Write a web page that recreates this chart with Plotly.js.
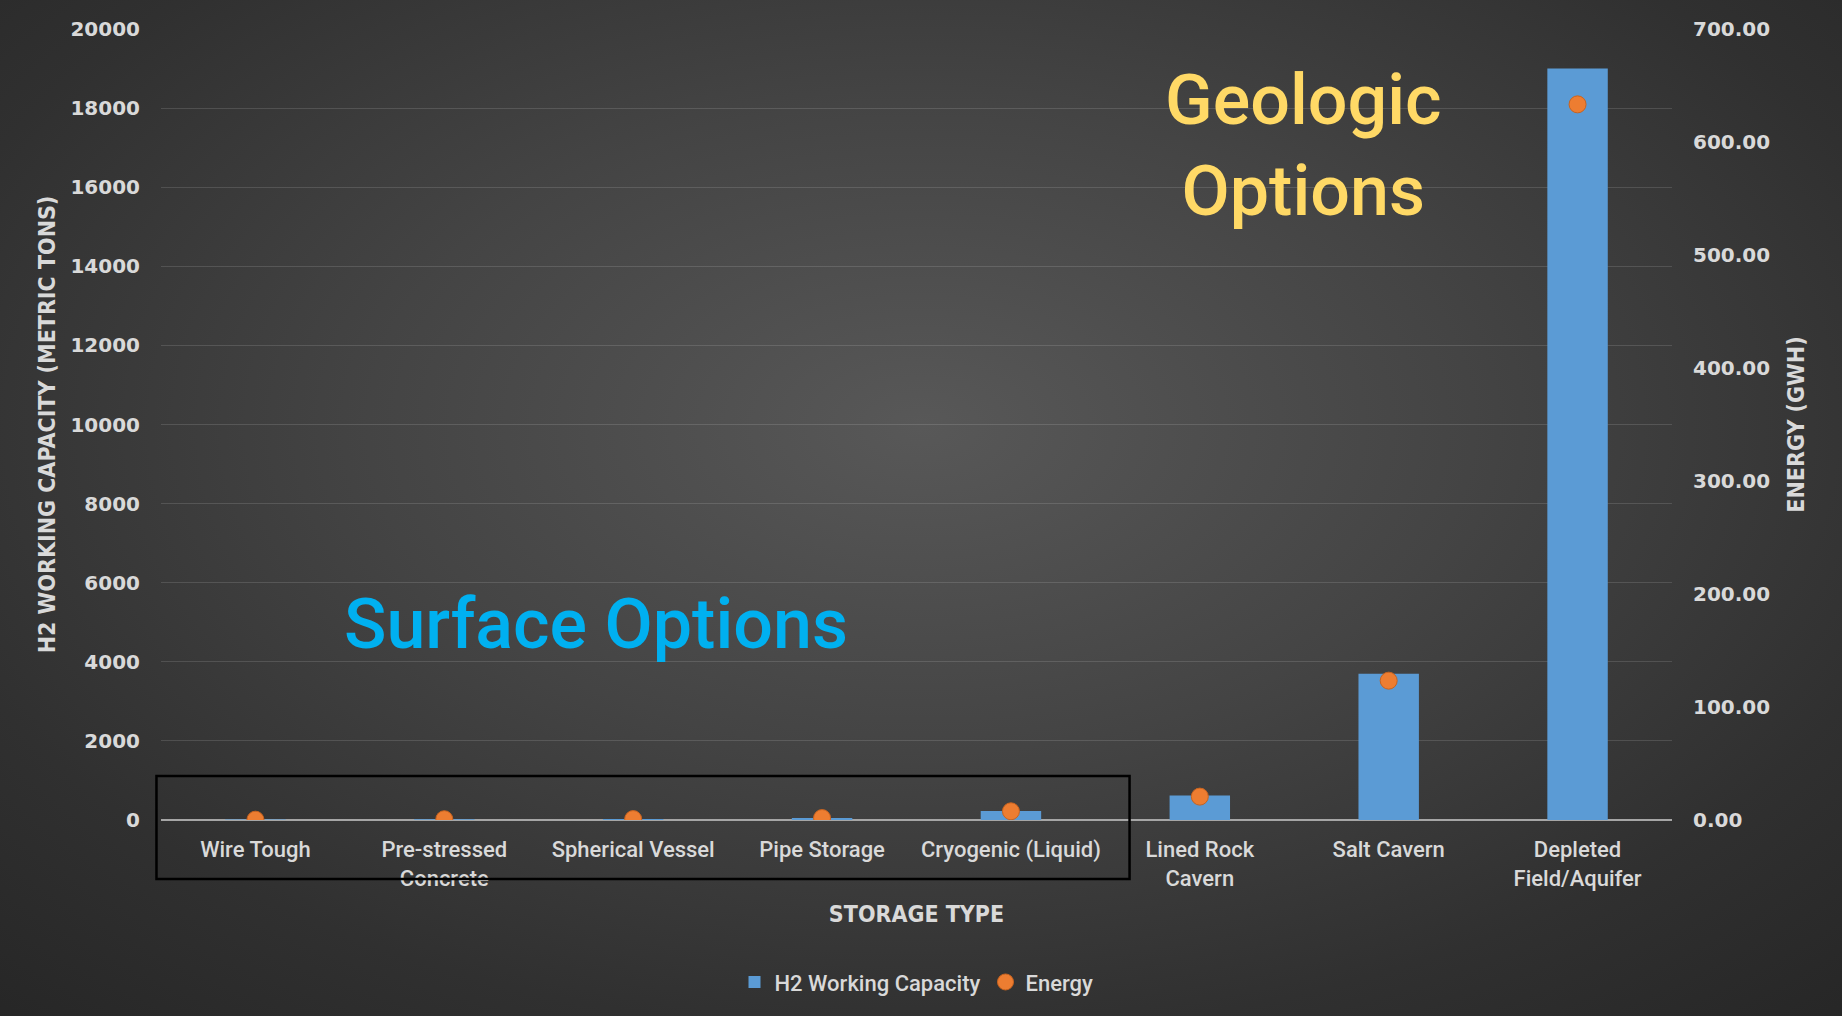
<!DOCTYPE html>
<html>
<head>
<meta charset="utf-8">
<script src="https://cdn.plot.ly/plotly-3.0.1.min.js"></script>
<style>
  html, body { margin: 0; padding: 0; width: 1842px; height: 1016px; overflow: hidden; }
  body { background: radial-gradient(ellipse 75% 80% at 50% 42%, #585858 0%, #444444 40%, #303030 75%, #262626 100%); }
  #chart { width: 1842px; height: 1016px; }
</style>
</head>
<body>
<div id="chart"></div>
<script>
const categories = ["Wire Tough", "Pre-stressed<br>Concrete", "Spherical Vessel", "Pipe Storage",
                    "Cryogenic (Liquid)", "Lined Rock<br>Cavern", "Salt Cavern", "Depleted<br>Field/Aquifer"];
const h2Capacity = [10, 20, 25, 50, 230, 620, 3700, 19000];   // metric tons
const energyGWh  = [0.3, 0.7, 0.8, 1.7, 7.7, 20.7, 123.3, 633.3];

const leftTicks  = [0, 2000, 4000, 6000, 8000, 10000, 12000, 14000, 16000, 18000, 20000];
const rightTicks = [0, 100, 200, 300, 400, 500, 600, 700];

const tickFont = {family: "DejaVu Sans", size: 20, color: "#d9d9d9", weight: "bold"};
const titleFont = {family: "DejaVu Sans Condensed, Liberation Sans Narrow, Liberation Sans", size: 23, color: "#d9d9d9", weight: "bold"};
const labelFont = {family: "Roboto", size: 22, color: "#d9d9d9", weight: 500};

const traces = [
  {
    type: "bar", name: "H2 Working Capacity", x: categories, y: h2Capacity,
    marker: {color: "#5b9bd5", line: {width: 0}}, yaxis: "y", hoverinfo: "x+y"
  },
  {
    type: "scatter", mode: "markers", name: "Energy", x: categories, y: energyGWh,
    marker: {color: "#ed7d31", size: 17, line: {color: "#c8631f", width: 1}}, yaxis: "y2"
  }
];

const layout = {
  width: 1842, height: 1016,
  paper_bgcolor: "rgba(0,0,0,0)", plot_bgcolor: "rgba(0,0,0,0)",
  margin: {l: 161, r: 170, t: 29, b: 196},
  bargap: 0.68,
  showlegend: true,
  legend: {orientation: "h", x: 0.5, xanchor: "center", y: -0.205, yanchor: "middle",
           font: {family: "Roboto", size: 22, color: "#d9d9d9", weight: 500}, bgcolor: "rgba(0,0,0,0)"},
  xaxis: {
    type: "category", showgrid: false, showline: false, zeroline: false, ticks: "",
    tickfont: labelFont,
    ticklabelstandoff: 14,
    title: {text: "STORAGE TYPE", font: titleFont, standoff: 16}
  },
  yaxis: {
    range: [0, 20000], tickvals: leftTicks, ticktext: leftTicks.map(String),
    showgrid: true, gridcolor: "rgba(255,255,255,0.13)", gridwidth: 1,
    zeroline: true, zerolinecolor: "#a6a6a6", zerolinewidth: 2,
    showline: false, ticks: "", ticklabelstandoff: 20, tickfont: tickFont,
    title: {text: "H2 WORKING CAPACITY (METRIC TONS)", font: titleFont, standoff: 8}
  },
  yaxis2: {
    overlaying: "y", side: "right", range: [0, 700], tickvals: rightTicks,
    ticktext: rightTicks.map(v => v.toFixed(2)),
    showgrid: false, zeroline: false, showline: false, ticks: "", ticklabelstandoff: 20,
    tickfont: tickFont,
    title: {text: "ENERGY (GWH)", font: titleFont, standoff: 18}
  },
  annotations: [
    {text: "Geologic<br>Options", xref: "paper", yref: "paper", x: 0.756, y: 0.965, xanchor: "center", yanchor: "top",
     showarrow: false, font: {family: "Roboto", size: 70, color: "#ffd966", weight: 500}},
    {text: "Surface Options", xref: "paper", yref: "paper", x: 0.288, y: 0.248, xanchor: "center", yanchor: "middle",
     showarrow: false, font: {family: "Roboto", size: 70, color: "#00b0f0", weight: 500}}
  ],
  shapes: [
    {type: "rect", xref: "paper", yref: "paper", x0: -0.003, x1: 0.641, y0: -0.0746, y1: 0.0556,
     line: {color: "#000000", width: 2.5}, fillcolor: "rgba(0,0,0,0)"}
  ]
};

Plotly.newPlot("chart", traces, layout, {displayModeBar: false, staticPlot: true});
</script>
</body>
</html>
